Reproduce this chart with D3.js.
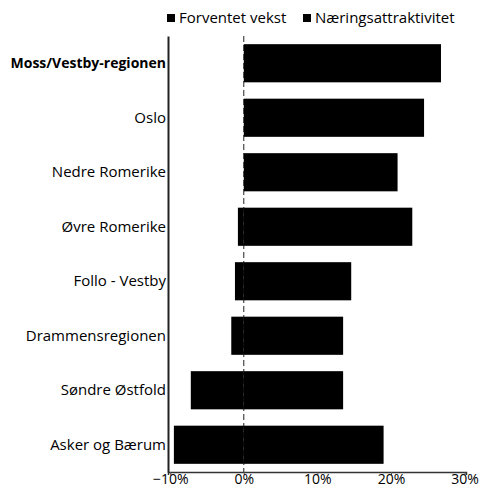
<!DOCTYPE html>
<html>
<head>
<meta charset="utf-8">
<script src="https://cdn.jsdelivr.net/npm/d3@7"></script>
<style>
  body { margin: 0; background: #fff; }
  svg text { font-family: "Open Sans", sans-serif; fill: #000; }
</style>
</head>
<body>
<div id="chart"></div>
<script>
var regions = ["Moss/Vestby-regionen", "Oslo", "Nedre Romerike", "Øvre Romerike",
               "Follo - Vestby", "Drammensregionen", "Søndre Østfold", "Asker og Bærum"];
var seriesNames = ["Forventet vekst", "Næringsattraktivitet"];
var forventetVekst = [0.268, 0.245, 0.209, 0.229, 0.146, 0.135, 0.135, 0.190];
var naeringsattraktivitet = [0, 0, 0, -0.008, -0.012, -0.017, -0.072, -0.095];
var xTicks = [-0.1, 0, 0.1, 0.2, 0.3];

var width = 482, height = 490;
var margin = {top: 36, right: 16, bottom: 18, left: 168};

var rows = regions.map(function (r, i) {
  return {region: r, "Forventet vekst": forventetVekst[i], "Næringsattraktivitet": naeringsattraktivitet[i]};
});

var stacked = d3.stack()
  .keys(seriesNames)
  .offset(d3.stackOffsetDiverging)(rows);

var svg = d3.select("#chart").append("svg")
  .attr("width", width)
  .attr("height", height);

var x = d3.scaleLinear()
  .domain([-0.103, 0.302])
  .range([margin.left, width - margin.right]);

var y = d3.scaleBand()
  .domain(regions)
  .range([margin.top, height - margin.bottom])
  .paddingInner(0.3)
  .paddingOuter(0.15);

// dashed zero line
svg.append("line")
  .attr("x1", x(0)).attr("x2", x(0))
  .attr("y1", margin.top).attr("y2", height - margin.bottom)
  .attr("stroke", "#222")
  .attr("stroke-width", 1)
  .attr("stroke-dasharray", "6,3");

// bars
svg.selectAll(".series")
  .data(stacked)
  .enter().append("g")
  .attr("class", "series")
  .attr("fill", "#000")
  .selectAll("rect")
  .data(function (d) { return d; })
  .enter().append("rect")
  .attr("x", function (d) { return x(Math.min(d[0], d[1])); })
  .attr("y", function (d) { return y(d.data.region); })
  .attr("width", function (d) { return Math.abs(x(d[1]) - x(d[0])); })
  .attr("height", y.bandwidth());

// x axis
var xAxis = d3.axisBottom(x)
  .tickValues(xTicks)
  .tickSize(3)
  .tickFormat(d3.format(".0%"));

var gx = svg.append("g")
  .attr("transform", "translate(0," + (height - margin.bottom) + ")")
  .call(xAxis);
gx.select(".domain").attr("stroke", "#333").attr("stroke-width", 1.5);
gx.selectAll(".tick line").attr("stroke", "#555");
gx.selectAll(".tick text")
  .attr("y", 4)
  .attr("dy", "0.6em")
  .style("font-size", "14px")
  .style("font-family", "'Open Sans', sans-serif");

// y axis
var yAxis = d3.axisLeft(y).tickSize(0).tickPadding(2);
var gy = svg.append("g")
  .attr("transform", "translate(" + margin.left + ",0)")
  .call(yAxis);
gy.select(".domain").attr("stroke", "#222").attr("stroke-width", 2);
gy.selectAll(".tick text")
  .style("font-size", function (d) { return d == regions[0] ? "14px" : "15px"; })
  .style("font-family", "'Open Sans', sans-serif")
  .style("font-weight", function (d) { return d == regions[0] ? "bold" : "normal"; });

// legend
var legendX = [167, 303];
var legend = svg.selectAll(".legend")
  .data(seriesNames)
  .enter().append("g")
  .attr("class", "legend")
  .attr("transform", function (d, i) { return "translate(" + legendX[i] + ",18)"; });

legend.append("rect")
  .attr("x", 0).attr("y", -4)
  .attr("width", 8).attr("height", 8)
  .attr("fill", "#000");

legend.append("text")
  .attr("x", 12)
  .attr("dy", "0.35em")
  .style("font-size", "15px")
  .text(function (d) { return d; });
</script>
</body>
</html>
